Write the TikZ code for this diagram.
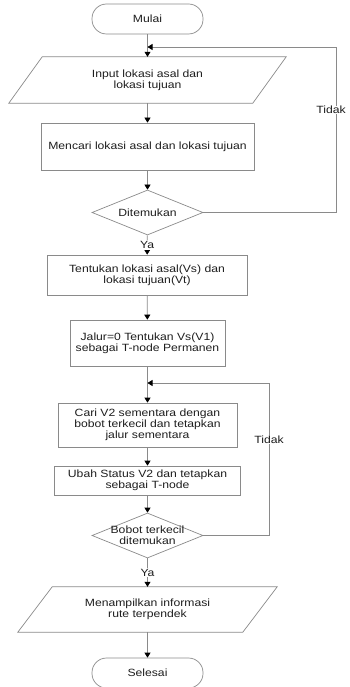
\documentclass[tikz,border=0pt]{standalone}
\usepackage{fontspec}
\setmainfont{Liberation Sans}[FakeStretch=1.16]
\usetikzlibrary{arrows.meta,shapes.geometric,calc}
\definecolor{linegray}{HTML}{8A8A8A}
\definecolor{txtcol}{HTML}{1E1E1E}
\begin{document}
\begin{tikzpicture}[x=1pt,y=-1pt,
  txt/.style={font=\fontsize{10.5}{11.2}\selectfont, align=center, inner sep=0pt, text=txtcol},
  base/.style={txt, draw=linegray, line width=0.7pt},
  term/.style={base, rectangle, rounded corners=14.5pt, minimum width=111pt, minimum height=30pt},
  proc/.style={base, rectangle},
  dec/.style={base, diamond, minimum width=111pt, minimum height=45pt},
  iobox/.style={txt, rectangle},
  outline/.style={draw=linegray, line width=0.7pt},
  arr/.style={draw=linegray, line width=0.7pt, -{Triangle[width=6pt,length=5pt,color=black,fill=black]}},
  lbl/.style={txt, fill=white, inner sep=1pt}
]
\useasboundingbox (0,0) rectangle (349,687);

% nodes
\node[term] (mulai) at (147.5,19) {Mulai};
\node[iobox, minimum width=277pt, minimum height=46pt] (input) at (147.5,80) {Input lokasi asal dan\\lokasi tujuan};
\draw[outline] (input.south west) -- ++(244,0) -- (input.north east) -- ++(-244,0) -- cycle;
\node[proc, minimum width=213pt, minimum height=47pt] (mencari) at (147.5,146.5) {Mencari lokasi asal dan lokasi tujuan};
\node[dec] (d1) at (147.5,212.5) {};
\node[txt] (d1t) at (d1) {Ditemukan};
\node[proc, minimum width=200pt, minimum height=40pt] (tentukan) at (147,275) {Tentukan lokasi asal(Vs) dan\\lokasi tujuan(Vt)};
\node[proc, minimum width=155pt, minimum height=46pt] (jalur) at (147.5,343) {Jalur=0 Tentukan Vs(V1)\\sebagai T-node Permanen};
\node[proc, minimum width=179pt, minimum height=44pt] (cari) at (147.5,425) {Cari V2 sementara dengan\\bobot terkecil dan tetapkan\\jalur sementara};
\node[proc, minimum width=186pt, minimum height=29pt] (ubah) at (147.5,480.5) {Ubah Status V2 dan tetapkan\\sebagai T-node};
\node[dec] (d2) at (147.5,535.5) {};
\node[txt] (d2t) at (d2) {Bobot terkecil\\ditemukan};
\node[iobox, minimum width=259pt, minimum height=45pt] (output) at (147.5,609.5) {Menampilkan informasi\\rute terpendek};
\draw[outline] (output.south west) -- ++(225,0) -- (output.north east) -- ++(-225,0) -- cycle;
\node[term] (selesai) at (147.5,673) {Selesai};

% junction and corner coordinates
\coordinate (j1) at (147.5,47);
\coordinate (c1) at (336,212.5);
\coordinate (c2) at (336,47);
\coordinate (j2) at (147.5,383);
\coordinate (c3) at (269,535.5);
\coordinate (c4) at (269,383);

% connectors
\draw[arr] (mulai) -- (input);
\draw[arr] (input) -- (mencari);
\draw[arr] (mencari) -- (d1);
\draw[arr] (d1) -- node[lbl]{Ya} (tentukan);
\draw[arr] (tentukan) -- (jalur);
\draw[arr] (jalur) -- (cari);
\draw[arr] (cari) -- (ubah);
\draw[arr] (ubah) -- (d2);
\draw[arr] (d2) -- node[lbl]{Ya} (output);
\draw[arr] (output) -- (selesai);
\draw[arr] (d1.east) -- (c1) -- node[lbl,pos=0.62,xshift=-5pt,inner sep=0.5pt]{Tidak} (c2) -- (j1);
\draw[arr] (d2.east) -- (c3) -- node[lbl,pos=0.63]{Tidak} (c4) -- (j2);
\end{tikzpicture}
\end{document}
